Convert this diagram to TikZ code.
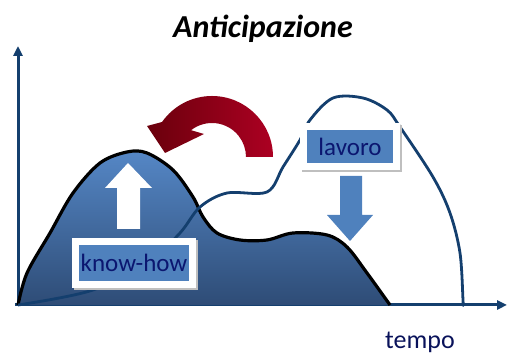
\documentclass[tikz,border=0pt]{standalone}
\usepackage{fontspec}
\setmainfont{Carlito}
\usetikzlibrary{arrows.meta,calc}

\definecolor{axisblue}{HTML}{143F6E}
\definecolor{hilltop}{HTML}{5587C6}
\definecolor{hillbot}{HTML}{2E4C76}
\definecolor{tagblue}{HTML}{4F81BD}
\definecolor{tagtext}{HTML}{0B1670}
\definecolor{redleft}{HTML}{6A000C}
\definecolor{redright}{HTML}{AC0022}

\tikzset{
  axis/.style={axisblue, line width=3pt, -{Triangle[length=10pt,width=9pt]}},
  tag/.style={fill=tagblue, text=tagtext, inner sep=0pt,
    font=\fontsize{25}{25}\selectfont,
    preaction={draw=black!25, line width=14pt, transform canvas={shift={(2pt,-2pt)}}},
    preaction={draw=white, line width=14pt}},
}

\begin{document}
\begin{tikzpicture}[x=1pt,y=1pt]
  \useasboundingbox (0,0) rectangle (507,355);

  % title and axes
  \node[anchor=base, font=\fontsize{32}{32}\selectfont\bfseries\itshape] (title) at (263,317) {Anticipazione};
  \coordinate (o) at (18,50);
  \coordinate (ytop) at (18,309);
  \coordinate (xend) at (507,50);
  \draw[axis] (o) -- (ytop);
  \draw[axis] ([xshift=-3pt]o) -- (xend);
  \node[anchor=base, text=tagtext!80!black, font=\fontsize{26}{26}\selectfont] (tempo) at (420,6) {tempo};

  % know-how hill
  \shade[top color=hilltop, bottom color=hillbot]
    plot[smooth, tension=0.55] coordinates {(18,50) (27,82) (50,122) (73,162) (100,192) (127,203) (147,202) (173,185) (193,158) (203,138) (217,122) (240,115) (267,115) (293,122) (327,120) (347,108) (367,82) (390,50)} -- cycle;
  \draw[black, line width=3.2pt, line join=round]
    plot[smooth, tension=0.55] coordinates {(18,50) (27,82) (50,122) (73,162) (100,192) (127,203) (147,202) (173,185) (193,158) (203,138) (217,122) (240,115) (267,115) (293,122) (327,120) (347,108) (367,82) (390,50)};

  % lavoro curve
  \draw[axisblue, line width=2.8pt, line join=round]
    plot[smooth, tension=0.55] coordinates {(18,50) (93,65) (150,95) (180,122) (200,148) (227,162) (267,163) (283,188) (300,215) (310,235) (333,257) (363,257) (387,245) (400,228) (433,178) (450,142) (460,102) (463,55) (463,50)};

  % arrows
  \fill[white] (117,126) -- (117,167) -- (105,167) -- (128,192) -- (152,167) -- (140,167) -- (140,126) -- cycle;
  \fill[tagblue] (340,179) -- (340,140) -- (327,140) -- (350,114) -- (373,140) -- (362,140) -- (362,179) -- cycle;
  \shade[left color=redleft, right color=redright]
    (273,198) arc[start angle=0, end angle=145, radius=61pt]
    -- (147,229) -- (165,202) -- (204,221)
    -- ($(212,198)+(128:34pt)$) arc[start angle=128, end angle=0, radius=34pt] -- cycle;

  % labels
  \node[tag, minimum width=110pt, minimum height=36pt] (knowhow) at (134,92) {know-how};
  \node[tag, minimum width=86pt, minimum height=33pt] (lavoro) at (350,208) {lavoro};
\end{tikzpicture}
\end{document}
